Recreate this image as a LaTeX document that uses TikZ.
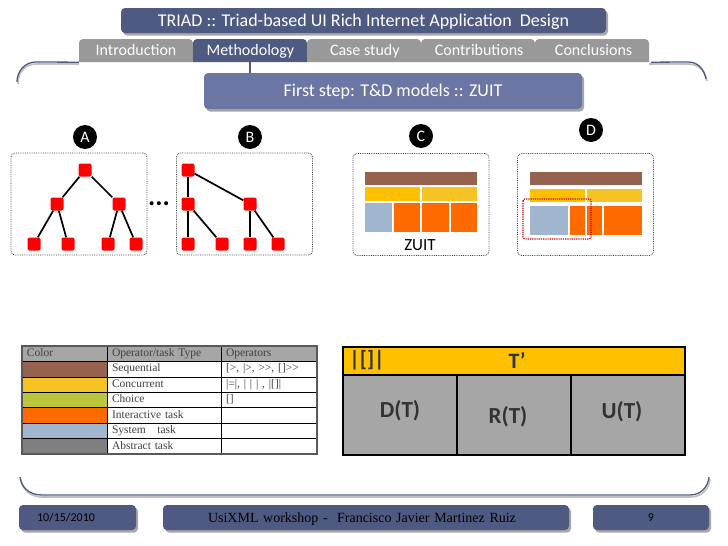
\documentclass[tikz,border=0pt]{standalone}
\usepackage{fontspec}
\setmainfont{Carlito}
\newfontfamily\tablefont{Liberation Serif}
\usetikzlibrary{positioning,shadows}
\definecolor{barblue}{HTML}{4F5A82}
\definecolor{stepblue}{HTML}{6B76A4}
\definecolor{tabgray}{HTML}{999999}
\definecolor{opbrown}{HTML}{956250}
\definecolor{opyellow}{HTML}{F6C325}
\definecolor{opgold}{HTML}{FFC000}
\definecolor{opgreen}{HTML}{BBC63A}
\definecolor{oporange}{HTML}{FF6A00}
\definecolor{opblue}{HTML}{A0B6CE}
\definecolor{opgray}{HTML}{7F7F7F}
\definecolor{boxgray}{HTML}{A6A6A6}
\newcommand{\fsz}[1]{\fontsize{#1}{#1}\selectfont}
\tikzset{
  softshadow/.style={drop shadow={shadow xshift=2pt,shadow yshift=-2.5pt,fill=black,opacity=.35}},
  bar/.style={fill=barblue,rounded corners=4pt,softshadow,text=white,inner sep=0pt,minimum height=25pt,text height=11pt,text depth=0pt},
  tabtext/.style={text=white,inner sep=0pt,minimum width=114pt,minimum height=23pt,text height=10pt,text depth=0pt,font=\fsz{16}},
  tabshape/.style={rounded corners=4pt},
  bracket/.style={barblue,line width=1.3pt},
  bracketshade/.style={black!25,line width=1.6pt},
  badge/.style={circle,fill=black,text=white,minimum size=24pt,inner sep=0pt,font=\fsz{16}},
  frame/.style={draw=black!75,densely dotted,line width=.8pt,rounded corners=4pt,minimum width=136pt,minimum height=102pt},
  task/.style={fill=red,rounded corners=2pt,minimum size=13pt,inner sep=0pt},
  link/.style={line width=1.7pt},
  cell/.style={draw=black,line width=.7pt,outer sep=0pt,inner xsep=5pt,inner ysep=0pt,minimum height=15.43pt,
    text height=7.5pt,text depth=2pt,align=left,text=black!75,font=\tablefont\fsz{11.5}},
  colA/.style={cell,text width=75pt},
  colB/.style={cell,text width=104pt},
  colC/.style={cell,text width=86pt},
  part/.style={draw=black,line width=1.4pt,fill=boxgray,outer sep=0pt,minimum width=114pt,minimum height=80pt},
  partlabel/.style={font=\bfseries\fsz{23},text=black!80,inner sep=0pt},
}
\begin{document}
\begin{tikzpicture}[x=1pt,y=-1pt]
\useasboundingbox (0,0) rectangle (728,546);

% header
\node[bar,minimum width=485pt,font=\fsz{18}]	(title) at (363.5,20.5)	{TRIAD :: Triad-based UI Rich Internet Application\ \ Design};

\fill[tabgray,tabshape]	(79,62) -- (79,39) -- (193,39) [sharp corners] -- (193,62) -- cycle;
\fill[barblue,tabshape]	(193,62) -- (193,39) -- (307,39) [sharp corners] -- (307,62) -- cycle;
\fill[tabgray,tabshape]	(307,62) -- (307,39) -- (421,39) [sharp corners] -- (421,62) -- cycle;
\fill[tabgray,tabshape]	(421,62) -- (421,39) -- (535,39) [sharp corners] -- (535,62) -- cycle;
\fill[tabgray,tabshape]	(535,62) -- (535,39) -- (649,39) [sharp corners] -- (649,62) -- cycle;

\node[tabtext]	(intro) at (136,50.5)	{Introduction};
\node[tabtext]	(meth)	[right=0pt of intro]	{Methodology};
\node[tabtext]	(case)	[right=0pt of meth]	{Case study};
\node[tabtext]	(contrib)	[right=0pt of case]	{Contributions};
\node[tabtext]	(concl)	[right=0pt of contrib]	{Conclusions};

\coordinate (topL) at (17,82);
\coordinate (topR) at (706,79);
\draw[bracketshade] (79,64) -- (36,64) .. controls (25,64) and (18,72) .. (18,84);
\draw[bracketshade] (649,64) -- (688,64) .. controls (698,64) and (705,70) .. (707,81);
\draw[bracket] (intro.south west) -- (36,62) .. controls (25,62) and (17,71) .. (topL);
\draw[bracket] (concl.south east) -- (688,62) .. controls (698,62) and (704,69) .. (topR);

\node[bar,fill=stepblue,minimum width=378pt,minimum height=36pt,font=\fsz{18}]	(stepbox) at (393,91)	{First step: T\&D models :: ZUIT};
\draw[barblue,line width=2pt] (meth.south) -- (meth.south |- stepbox.north);

% the four models
\node[badge]	(A) at (85,137)	{A};
\node[badge]	(B) at (250,137)	{B};
\node[badge]	(C) at (421,136)	{C};
\node[badge]	(D) at (591,130)	{D};

\node[frame]	(frameA) at (79,204)	{};
\node[frame]	(frameB) at (244.5,204)	{};
\node[frame]	(frameC) at (421,204.5)	{};
\node[frame]	(frameD) at (585.5,204.5)	{};

\node[task]	(a1) at (85,170)	{};
\node[task]	(a2) at (57,204)	{};
\node[task]	(a3) at (119,204)	{};
\node[task]	(a4) at (34,244)	{};
\node[task]	(a5) at (68,244)	{};
\node[task]	(a6) at (108,244)	{};
\node[task]	(a7) at (136,244)	{};

\node[task]	(b1) at (188,170)	{};
\node[task]	(b2) at (188,204)	{};
\node[task]	(b3) at (250,204)	{};
\node[task]	(b4) at (188,244)	{};
\node[task]	(b5) at (222,244)	{};
\node[task]	(b6) at (250,244)	{};
\node[task]	(b7) at (278,244)	{};

\path[link] (a1)  edge	(a2)
edge	(a3)
(a2)  edge	(a4)
edge	(a5)
(a3)  edge	(a6)
edge	(a7)
(b1)  edge	(b2)
edge	(b3)
(b2)  edge	(b4)
edge	(b5)
(b3)  edge	(b6)
edge	(b7);

\node[font=\bfseries\fsz{27},inner sep=0pt]	(more) at (159,204)	{...};

\fill[opbrown]	(365,172) rectangle (477,185);
\fill[opgold]	(365,187) rectangle (420,201);
\fill[opyellow]	(422,187) rectangle (477,201);
\fill[opblue]	(365,203) rectangle (392,232);
\fill[oporange]	(394,203) rectangle (420,232);
\fill[oporange]	(422,203) rectangle (449,232);
\fill[oporange]	(451,203) rectangle (477,232);
\node[font=\fsz{17},inner sep=0pt]	(zuit) at (420,245)	{ZUIT};

\fill[opbrown]	(530,172) rectangle (642,185);
\fill[opgold]	(530,189) rectangle (585,202);
\fill[opyellow]	(587,189) rectangle (642,202);
\fill[opblue]	(530,206) rectangle (568,235);
\fill[oporange]	(570,206) rectangle (585,235);
\fill[oporange]	(587,206) rectangle (602,235);
\fill[oporange]	(604,206) rectangle (642,235);
\draw[red!80!black,densely dotted,line width=1.2pt,rounded corners=2pt] (523,199) rectangle (591,239);

% colour table
\node[colA,fill=boxgray,anchor=north west]	(r1a) at (22,346)	{Color};
\node[colB,fill=boxgray]	(r1b) [right=0pt of r1a]	{Operator/task Type};
\node[colC,fill=boxgray]	(r1c) [right=0pt of r1b]	{Operators};
\node[colA,fill=opbrown]	(r2a) [below=0pt of r1a]	{};
\node[colB]	(r2b) [right=0pt of r2a]	{Sequential};
\node[colC]	(r2c) [right=0pt of r2b]	{[>, |>, >>, []>>};
\node[colA,fill=opyellow]	(r3a) [below=0pt of r2a]	{};
\node[colB]	(r3b) [right=0pt of r3a]	{Concurrent};
\node[colC]	(r3c) [right=0pt of r3b]	{|=|, | | | , |[]|};
\node[colA,fill=opgreen]	(r4a) [below=0pt of r3a]	{};
\node[colB]	(r4b) [right=0pt of r4a]	{Choice};
\node[colC]	(r4c) [right=0pt of r4b]	{[]};
\node[colA,fill=oporange]	(r5a) [below=0pt of r4a]	{};
\node[colB]	(r5b) [right=0pt of r5a]	{Interactive task};
\node[colC]	(r5c) [right=0pt of r5b]	{};
\node[colA,fill=opblue]	(r6a) [below=0pt of r5a]	{};
\node[colB]	(r6b) [right=0pt of r6a]	{System\ \ \ task};
\node[colC]	(r6c) [right=0pt of r6b]	{};
\node[colA,fill=opgray]	(r7a) [below=0pt of r6a]	{};
\node[colB]	(r7b) [right=0pt of r7a]	{Abstract task};
\node[colC]	(r7c) [right=0pt of r7b]	{};
\draw[black!65,line width=1.4pt] (r1a.north west) rectangle (r7c.south east);

% T' box
\node[part,fill=opgold,minimum width=342pt,minimum height=28pt,anchor=north west]	(tprime) at (343,347)	{};
\node[part,anchor=north west]	(dt) at (343,375)	{};
\node[part]	(rt) [right=0pt of dt]	{};
\node[part]	(ut) [right=0pt of rt]	{};
\node[partlabel,font=\bfseries\fsz{22}]	(choice) at (367,360)	{|[]|};
\node[partlabel,font=\bfseries\fsz{22}]	(tlabel) at (517,360)	{T’};
\node[partlabel]	(dlabel) at (400,411)	{D(T)};
\node[partlabel]	(rlabel) at (508,417)	{R(T)};
\node[partlabel]	(ulabel) at (622,412)	{U(T)};

% footer
\coordinate (botL) at (20,477);
\coordinate (botR) at (709,477);
\draw[bracketshade] (21,479) .. controls (22,489) and (30,497) .. (42,497) -- (690,497) .. controls (702,497) and (709,489) .. (710,479);
\draw[bracket] (botL) .. controls (21,487) and (29,495) .. (42,495) -- (690,495) .. controls (701,495) and (708,487) .. (botR);

\node[bar,inner xsep=18pt,text width=81pt,align=left,text=black,text height=8pt,font=\fsz{12}]	(date) at (77.5,517.5)	{10/15/2010};
\node[bar,inner xsep=45pt,text width=316pt,align=left,text=black,text height=9pt,font=\tablefont\fsz{14}]	(event) at (366,517.5)	{UsiXML workshop -\ \ Francisco Javier Martinez Ruiz};
\node[bar,minimum width=116pt,text=black,text height=8pt,font=\fsz{12}]	(page) at (651,517.5)	{9};
\end{tikzpicture}
\end{document}
